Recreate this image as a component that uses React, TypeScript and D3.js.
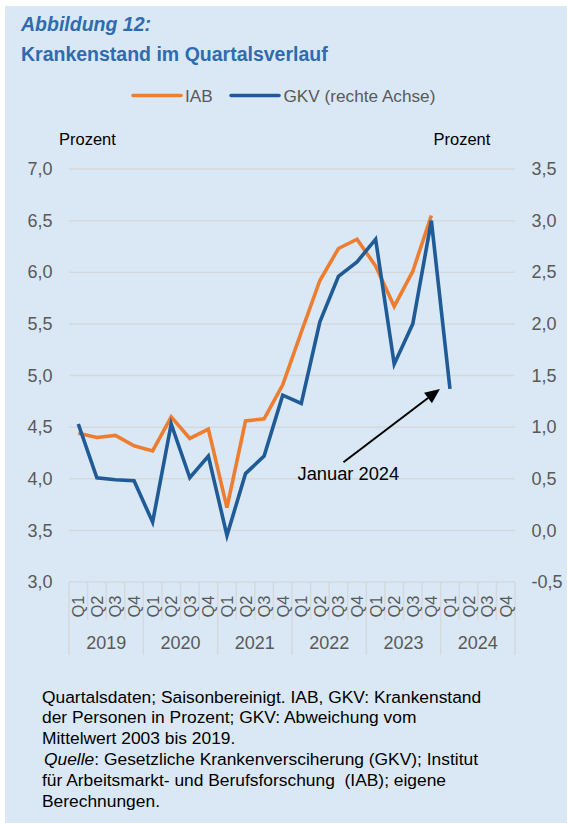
import React from "react";
import * as d3 from "d3";

const years = ["2019", "2020", "2021", "2022", "2023", "2024"];
const quarters = ["Q1", "Q2", "Q3", "Q4"];
const iab = [4.44, 4.40, 4.42, 4.32, 4.27, 4.60, 4.39, 4.48, 3.72, 4.56, 4.58, 4.91, 5.42, 5.92, 6.23, 6.32, 6.06, 5.67, 6.01, 6.55];
const gkv = [1.03, 0.51, 0.49, 0.48, 0.08, 1.03, 0.51, 0.72, -0.05, 0.55, 0.72, 1.31, 1.23, 2.02, 2.46, 2.60, 2.82, 1.61, 2.00, 3.00, 1.37];
const leftTicks = [3.0, 3.5, 4.0, 4.5, 5.0, 5.5, 6.0, 6.5, 7.0];
const rightTicks = [-0.5, 0.0, 0.5, 1.0, 1.5, 2.0, 2.5, 3.0, 3.5];
const footnote = [
  "Quartalsdaten; Saisonbereinigt. IAB, GKV: Krankenstand",
  "der Personen in Prozent; GKV: Abweichung vom",
  "Mittelwert 2003 bis 2019.",
];
const sourceFirst = ": Gesetzliche Krankenversciherung (GKV); Institut";
const source = [
  "für Arbeitsmarkt- und Berufsforschung  (IAB); eigene",
  "Berechnungen.",
];

const W = 567;
const H = 823;
const FONT = "'Liberation Sans', Arial, sans-serif";
const ORANGE = "#ED7D31";
const BLUE = "#1F5B97";
const GRID = "#D6D9DC";
const TXT = "#595959";
const TITLE = "#2E6BB0";

export default function App() {
  const cats = years.flatMap((y) => quarters.map((q) => `${y}-${q}`));
  const x = d3.scaleBand<string>().domain(cats).range([69, 515]);
  const yL = d3.scaleLinear().domain([3, 7]).range([582, 169]);
  const yR = d3.scaleLinear().domain([-0.5, 3.5]).range([582, 169]);
  const cx = (i: number) => (x(cats[i]) as number) + x.bandwidth() / 2;

  const lineL = d3.line<number>().x((_, i) => cx(i)).y((d) => yL(d));
  const lineR = d3.line<number>().x((_, i) => cx(i)).y((d) => yR(d));

  const fmt = (v: number) => d3.format(".1f")(v).replace(".", ",").replace("−", "-");

  // arrow annotation
  const tipX = cx(20) - 10;
  const tipY = yR(1.37);
  const tailX = cx(14) + 5;
  const tailY = yR(0.66);
  const ang = Math.atan2(tipY - tailY, tipX - tailX);
  const hl = 15;
  const hw = 6.5;
  const bx = tipX - hl * Math.cos(ang);
  const by = tipY - hl * Math.sin(ang);
  const head = [
    [tipX, tipY],
    [bx + hw * Math.sin(ang), by - hw * Math.cos(ang)],
    [bx - hw * Math.sin(ang), by + hw * Math.cos(ang)],
  ];

  const x0 = x.range()[0];
  const x1 = x.range()[1];
  const fnSize = 17.4;
  const fnY = 702.5;
  const fnStep = 20.8;

  return (
    <svg
      width={W}
      height={H}
      style={{ position: "absolute", left: 0, top: 0, fontFamily: FONT }}
    >
      <rect x={0} y={0} width={W} height={H} fill="#fff" />
      <rect x={5} y={6} width={W - 5} height={H - 6} fill="#DAE8F5" />

      <text x={21} y={30.5} fill={TITLE} fontSize={19.5} fontWeight="bold" fontStyle="italic">
        Abbildung 12:
      </text>
      <text x={21} y={61} fill={TITLE} fontSize={19.5} fontWeight="bold">
        Krankenstand im Quartalsverlauf
      </text>

      {/* legend */}
      <line x1={133} x2={181} y1={95.5} y2={95.5} stroke={ORANGE} strokeWidth={3.5} strokeLinecap="round" />
      <text x={185} y={101.5} fill={TXT} fontSize={17.2}>IAB</text>
      <line x1={231} x2={279} y1={95.5} y2={95.5} stroke={BLUE} strokeWidth={3.5} strokeLinecap="round" />
      <text x={283.5} y={101.5} fill={TXT} fontSize={17.2}>GKV (rechte Achse)</text>

      <text x={59} y={145} fill="#000" fontSize={16.5}>Prozent</text>
      <text x={433.5} y={145} fill="#000" fontSize={16.5}>Prozent</text>

      {/* gridlines */}
      {leftTicks.map((t) => (
        <line key={t} x1={x0} x2={x1} y1={yL(t)} y2={yL(t)} stroke={GRID} strokeWidth={1.5} />
      ))}
      {leftTicks.map((t) => (
        <text key={"l" + t} x={52.5} y={yL(t) + 6.2} textAnchor="end" fill={TXT} fontSize={18}>
          {fmt(t)}
        </text>
      ))}
      {rightTicks.map((t) => (
        <text key={"r" + t} x={531.5} y={yR(t) + 6.2} fill={TXT} fontSize={18}>
          {fmt(t)}
        </text>
      ))}

      {/* category separators */}
      {cats.map((c, i) => {
        const xx = x(c) as number;
        const isYear = i % 4 === 0;
        return (
          <line key={"s" + c} x1={xx} x2={xx} y1={yL(3)} y2={isYear ? 655 : 620} stroke={GRID} strokeWidth={1.5} />
        );
      })}
      <line x1={x1} x2={x1} y1={yL(3)} y2={655} stroke={GRID} strokeWidth={1.5} />

      {cats.map((c, i) => (
        <text
          key={"q" + c}
          transform={`translate(${cx(i) + 6},${606.5}) rotate(-90)`}
          textAnchor="middle"
          fill={TXT}
          fontSize={16.5}
        >
          {quarters[i % 4]}
        </text>
      ))}
      {years.map((y, i) => (
        <text
          key={y}
          x={(cx(i * 4) + cx(i * 4 + 3)) / 2}
          y={648.5}
          textAnchor="middle"
          fill={TXT}
          fontSize={18}
        >
          {y}
        </text>
      ))}

      {/* lines */}
      <path d={lineL(iab) as string} fill="none" stroke={ORANGE} strokeWidth={3.6} strokeLinejoin="miter" />
      <path d={lineR(gkv) as string} fill="none" stroke={BLUE} strokeWidth={3.6} strokeLinejoin="miter" />

      {/* annotation */}
      <line x1={tailX} y1={tailY} x2={bx} y2={by} stroke="#000" strokeWidth={2} />
      <polygon points={head.map((p) => p.join(",")).join(" ")} fill="#000" />
      <text x={297.5} y={480} fill="#000" fontSize={18.3}>Januar 2024</text>

      {/* footnote */}
      {footnote.map((l, i) => (
        <text key={"f" + i} x={42} y={fnY + i * fnStep} fill="#000" fontSize={fnSize}>
          {l}
        </text>
      ))}
      <text x={44} y={fnY + 3 * fnStep} fill="#000" fontSize={fnSize} xmlSpace="preserve">
        <tspan fontStyle="italic">Quelle</tspan>
        {sourceFirst}
      </text>
      {source.map((l, i) => (
        <text key={"s" + i} x={42} y={fnY + (4 + i) * fnStep} fill="#000" fontSize={fnSize} style={{ whiteSpace: "pre" }}>
          {l}
        </text>
      ))}
    </svg>
  );
}
